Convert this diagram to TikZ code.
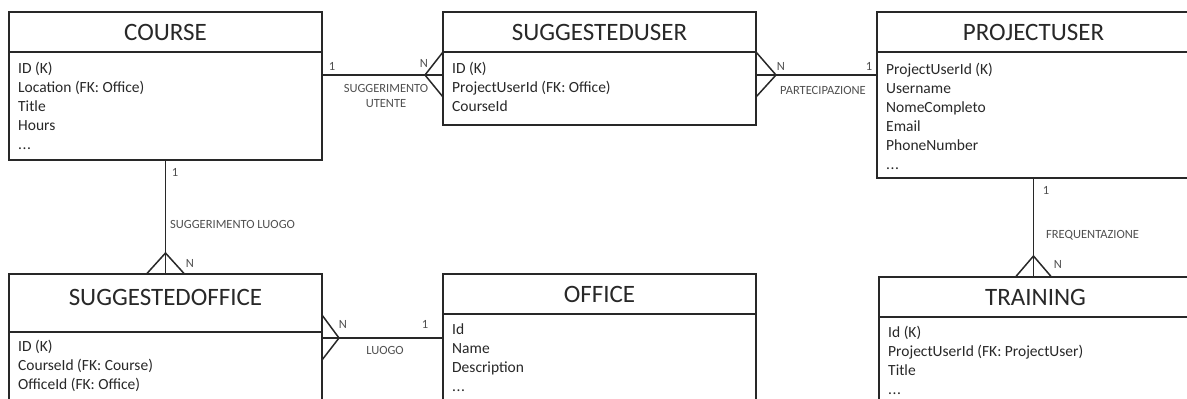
\documentclass[tikz,border=0pt]{standalone}
\usepackage{fontspec}
\setmainfont{Carlito}
\usetikzlibrary{calc}
\definecolor{ink}{RGB}{40,40,40}
\definecolor{lab}{RGB}{80,80,80}

% list of attributes inside an entity body: #1 body node, #2 name prefix,
% #3 offset of the first baseline below the body top, #4 attribute list
\newcommand\attrlist[4]{%
  \foreach \t [count=\i] in {#4}
    \node[attr] (#2\i) at ($(#1.north west)+(9,{#3+19*(\i-1)})$) {\t};}
\newcommand\etcdots{.\kern0.5pt.\kern0.5pt.}

\begin{document}
\begin{tikzpicture}[x=1pt,y=-1pt,
  ln/.style={draw=ink, line width=1.5pt},
  head/.style={draw=ink, line width=1.8pt, minimum width=313pt, minimum height=40pt,
    inner sep=0pt, outer sep=0pt, anchor=north west, text=ink,
    font=\fontsize{25}{30}\selectfont},
  body/.style={draw=ink, line width=1.8pt, minimum width=313pt, inner sep=0pt,
    outer sep=0pt, anchor=north west},
  attr/.style={font=\fontsize{15.5}{19}\selectfont, text=ink, inner sep=0pt, anchor=base west},
  lbl/.style={font=\fontsize{12.5}{15}\selectfont, text=lab, inner sep=0pt},
]
\useasboundingbox (0,0) rectangle (1187,399);
\clip (0,0) rectangle (1187,399);
\fill[white] (0,0) rectangle (1187,399);

% ---- entities ----
\node[head] (course) at (9,12) {COURSE};
\node[body, minimum height=108pt] (courseB) at (course.south west) {};
\attrlist{courseB}{courseA}{21}{{ID (K)},{Location (FK: Office)},{Title},{Hours},{\etcdots}}

\node[head] (suser) at (443,12) {SUGGESTEDUSER};
\node[body, minimum height=73pt] (suserB) at (suser.south west) {};
\attrlist{suserB}{suserA}{21}{{ID (K)},{ProjectUserId (FK: Office)},{CourseId}}

\node[head] (puser) at (877,12) {PROJECTUSER};
\node[body, minimum height=126pt] (puserB) at (puser.south west) {};
\attrlist{puserB}{puserA}{22}{{ProjectUserId (K)},{Username},{NomeCompleto},{Email},{PhoneNumber},{\etcdots}}

\node[head, minimum height=58pt, text depth=12pt] (soffice) at (9,274) {SUGGESTEDOFFICE};
\node[body, minimum height=100pt] (sofficeB) at (soffice.south west) {};
\attrlist{sofficeB}{sofficeA}{19}{{ID (K)},{CourseId (FK: Course)},{OfficeId (FK: Office)}}

\node[head] (office) at (443,274) {OFFICE};
\node[body, minimum height=100pt] (officeB) at (office.south west) {};
\attrlist{officeB}{officeA}{20}{{Id},{Name},{Description},{\etcdots}}

\node[head] (training) at (879,277) {TRAINING};
\node[body, minimum height=100pt] (trainingB) at (training.south west) {};
\attrlist{trainingB}{trainingA}{20}{{Id (K)},{ProjectUserId (FK: ProjectUser)},{Title},{\etcdots}}

% ---- relations ----
% COURSE 1 -- N SUGGESTEDUSER
\draw[ln] ($(courseB.north east)+(0,23)$) coordinate (cu) -- (cu -| suserB.west);
\draw[ln] (suserB.north west) -- ++(-18,23) -- ++(18,22);
\node[lbl] (cu1) at (332,66) {1};
\node[lbl] (cuN) at (424,63) {N};
\node[lbl, align=center] (cuT) at (386,96) {SUGGERIMENTO\\UTENTE};

% SUGGESTEDUSER N -- 1 PROJECTUSER
\draw[ln] ($(suserB.north east)+(0,23)$) coordinate (up) -- (up -| puserB.west);
\draw[ln] (suserB.north east) -- ++(20,23) -- ++(-20,22);
\node[lbl] (upN) at (781,66) {N};
\node[lbl] (up1) at (869,66) {1};
\node[lbl] (upT) at (823,90) {PARTECIPAZIONE};

% COURSE 1 -- N SUGGESTEDOFFICE
\draw[ln] (courseB.south) -- (soffice.north);
\draw[ln] ($(soffice.north)+(-19,0)$) -- ++(19,-21) -- ++(19,21);
\node[lbl] (cs1) at (175,172) {1};
\node[lbl, anchor=west] (csT) at (170,224) {SUGGERIMENTO LUOGO};
\node[lbl] (csN) at (190,263) {N};

% SUGGESTEDOFFICE N -- 1 OFFICE
\draw[ln] ($(sofficeB.north east)+(0,6)$) coordinate (so) -- (so -| officeB.west);
\draw[ln] ($(so)+(0,-23)$) -- ++(17,23) -- ++(-17,22);
\node[lbl] (soN) at (343,324) {N};
\node[lbl] (so1) at (425,324) {1};
\node[lbl] (soT) at (385,350) {LUOGO};

% PROJECTUSER 1 -- N TRAINING
\draw[ln] (puserB.south) -- (puserB.south |- training.north);
\draw[ln] ($(puserB.south |- training.north)+(-18,0)$) -- ++(18,-21) -- ++(18,21);
\node[lbl] (pt1) at (1046,190) {1};
\node[lbl, anchor=west] (ptT) at (1046,235) {FREQUENTAZIONE};
\node[lbl] (ptN) at (1058,264) {N};
\end{tikzpicture}
\end{document}
